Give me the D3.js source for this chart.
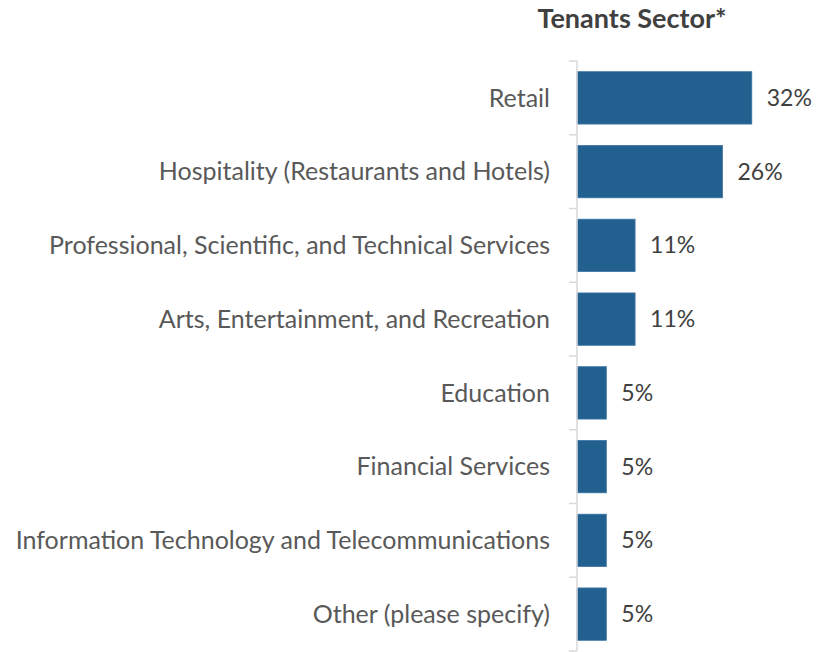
<!DOCTYPE html>
<html>
<head>
<meta charset="utf-8">
<script src="https://cdn.jsdelivr.net/npm/d3@7"></script>
<style>
  body { margin: 0; background: #fff; }
  text { font-family: Lato, "Open Sans", sans-serif; }
</style>
</head>
<body>
<svg id="chart"></svg>
<script>
const width = 818;
const height = 652;

// data
const categories = [
    "Retail",
    "Hospitality (Restaurants and Hotels)",
    "Professional, Scientific, and Technical Services",
    "Arts, Entertainment, and Recreation",
    "Education",
    "Financial Services",
    "Information Technology and Telecommunications",
    "Other (please specify)"
];
const values = [31.6, 26.3, 10.5, 10.5, 5.3, 5.3, 5.3, 5.3];
const valueLabels = ["32%", "26%", "11%", "11%", "5%", "5%", "5%", "5%"];
const title = "Tenants Sector*";

const axisX = 577;
const plotTop = 61;
const plotBottom = 651;

const svg = d3.select("#chart")
    .attr("width", width)
    .attr("height", height);

const x = d3.scaleLinear()
    .domain([0, 32])
    .range([axisX, axisX + 177]);

const y = d3.scaleBand()
    .domain(categories)
    .range([plotTop, plotBottom])
    .paddingInner(0.29)
    .paddingOuter(0.145);

// Title
svg.append("text")
    .attr("x", 632)
    .attr("y", 28)
    .attr("text-anchor", "middle")
    .attr("font-size", 27)
    .attr("font-weight", "bold")
    .attr("fill", "#404040")
    .text(title);

// Bars
svg.selectAll("rect.bar")
    .data(categories)
    .join("rect")
    .attr("class", "bar")
    .attr("x", x(0))
    .attr("y", d => y(d))
    .attr("width", (d, i) => x(values[i]) - x(0))
    .attr("height", y.bandwidth())
    .attr("fill", "#22618F")
    .attr("stroke", "#3D76A6")
    .attr("stroke-width", 0.8);

// Axis line + band ticks
const step = y.step();
const ticks = d3.range(categories.length + 1).map(i => plotTop + i * step);
svg.append("line")
    .attr("x1", axisX).attr("x2", axisX)
    .attr("y1", plotTop).attr("y2", plotBottom)
    .attr("stroke", "#d9d9d9")
    .attr("stroke-width", 1.5);
svg.selectAll("line.tick")
    .data(ticks)
    .join("line")
    .attr("class", "tick")
    .attr("x1", axisX - 8).attr("x2", axisX)
    .attr("y1", d => d).attr("y2", d => d)
    .attr("stroke", "#d9d9d9")
    .attr("stroke-width", 1.5);

// Category labels
svg.selectAll("text.cat")
    .data(categories)
    .join("text")
    .attr("class", "cat")
    .attr("x", 550)
    .attr("y", d => y(d) + y.bandwidth() / 2)
    .attr("dy", "0.35em")
    .attr("text-anchor", "end")
    .attr("font-size", 25)
    .attr("fill", "#595959")
    .text(d => d);

// Value labels
svg.selectAll("text.val")
    .data(categories)
    .join("text")
    .attr("class", "val")
    .attr("x", (d, i) => x(values[i]) + 15)
    .attr("y", d => y(d) + y.bandwidth() / 2)
    .attr("dy", "0.35em")
    .attr("font-size", 23)
    .attr("fill", "#404040")
    .text((d, i) => valueLabels[i]);
</script>
</body>
</html>
